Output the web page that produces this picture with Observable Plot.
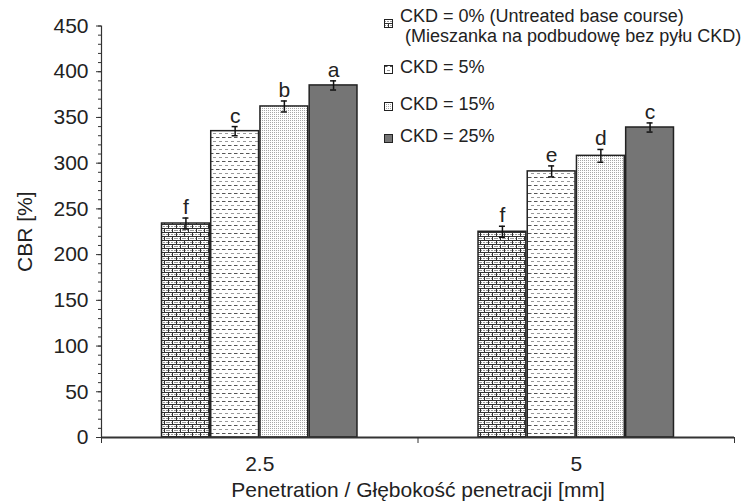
<!DOCTYPE html>
<html>
<head>
<meta charset="utf-8">
<script src="https://cdn.jsdelivr.net/npm/d3@7"></script>
<script src="https://cdn.jsdelivr.net/npm/@observablehq/plot@0.6"></script>
<style>
  body { margin: 0; background: #fff; }
  #wrap { position: relative; width: 756px; height: 501px; font-family: "Liberation Sans", Arial, sans-serif; color: #222; }
  #legend { position: absolute; left: 0; top: 0; font-size: 18px; line-height: 20px; }
  .item { position: absolute; left: 384px; white-space: nowrap; }
  .item svg { position: absolute; left: 0; }
  .item .txt { position: absolute; left: 16px; }
  .sub { display: block; padding-left: 5px; }
</style>
</head>
<body>
<svg width="0" height="0" style="position:absolute">
  <defs>
    <pattern id="brick" width="8" height="8" patternUnits="userSpaceOnUse">
      <rect width="8" height="8" fill="#fff"/>
      <path d="M0 2.5H8M0 6.5H8" stroke="#999" stroke-width="1" stroke-dasharray="2 1"/>
      <path d="M0 0.5H8M0 4.5H8M0.5 0V4.5M4.5 4.5V8" stroke="#333" stroke-width="1"/>
    </pattern>
    <pattern id="dash" width="6" height="8" patternUnits="userSpaceOnUse">
      <rect width="6" height="8" fill="#fff"/>
      <path d="M0 1.5H3.5" stroke="#555" stroke-width="1"/>
      <path d="M3 5.5H6" stroke="#999" stroke-width="1"/>
    </pattern>
    <pattern id="dots" width="2" height="2" patternUnits="userSpaceOnUse">
      <rect width="2" height="2" fill="#fff"/>
      <rect width="1" height="1" fill="#a8a8a8"/>
    </pattern>
  </defs>
</svg>
<div id="wrap">
  <div id="chart"></div>
  <div id="legend"></div>
</div>
<script>
// ---- data ----
const penetration = ["2.5", "5"];
const seriesLabels = [
  "CKD = 0% (Untreated base course)",
  "CKD = 5%",
  "CKD = 15%",
  "CKD = 25%"
];
const seriesSubLabel = ["(Mieszanka na podbudowę bez pyłu CKD)", "", "", ""];
const cbr_2_5 = [234, 335, 362, 385];
const cbr_5 = [225, 291, 308, 339];
const err_2_5 = [6, 5, 6, 5];
const err_5 = [6, 6, 7, 5];
const letters_2_5 = ["f", "c", "b", "a"];
const letters_5 = ["f", "e", "d", "c"];
const yTicks = [0, 50, 100, 150, 200, 250, 300, 350, 400, 450];

// ---- styling / layout ----
const fills = ["url(#brick)", "url(#dash)", "url(#dots)", "#757575"];
const groupSpan = 0.622;   // fraction of each penetration band occupied by bars
const capHalf = 0.0095;    // half width of error-bar caps (band units)

const values = [cbr_2_5, cbr_5];
const errors = [err_2_5, err_5];
const letters = [letters_2_5, letters_5];
const slot = groupSpan / seriesLabels.length;

const rows = penetration.flatMap((p, g) => seriesLabels.map((s, i) => {
  const x1 = g + 0.5 - groupSpan / 2 + i * slot;
  return {g, i, p, s, v: values[g][i], e: errors[g][i], l: letters[g][i],
          x1, x2: x1 + slot, xc: x1 + slot / 2};
}));

const chart = Plot.plot({
  width: 756,
  height: 501,
  marginLeft: 101,
  marginRight: 22,
  marginTop: 25.5,
  marginBottom: 64,
  style: {fontFamily: '"Liberation Sans", Arial, sans-serif', fontSize: "21px", color: "#222", background: "transparent", overflow: "visible"},
  x: {domain: [0, penetration.length]},
  y: {domain: [0, 450]},
  marks: [
    Plot.rect(rows, {x1: "x1", x2: "x2", y1: 0, y2: "v", fill: d => fills[d.i],
      stroke: "#222", strokeWidth: 1.5, insetLeft: 0.7, insetRight: 0.7}),
    Plot.ruleX(rows, {x: "xc", y1: d => d.v - d.e, y2: d => d.v + d.e, stroke: "#111", strokeWidth: 1.5}),
    Plot.ruleY(rows, {y: d => d.v + d.e, x1: d => d.xc - capHalf, x2: d => d.xc + capHalf, stroke: "#111", strokeWidth: 1.5}),
    Plot.ruleY(rows, {y: d => d.v - d.e, x1: d => d.xc - capHalf, x2: d => d.xc + capHalf, stroke: "#111", strokeWidth: 1.5}),
    Plot.text(rows, {x: "xc", y: d => d.v + d.e, text: "l", dy: -4, lineAnchor: "bottom", fontSize: 21, fill: "#222"}),
    Plot.ruleX([0], {stroke: "#333", strokeWidth: 1.2}),
    Plot.ruleY([0], {stroke: "#333", strokeWidth: 2}),
    Plot.axisY({ticks: d3.range(0, 451, 10), tickSize: 3, tickFormat: () => "", label: null, stroke: "#333"}),
    Plot.axisY({ticks: yTicks, tickSize: 5, tickPadding: 8, fontSize: 21, label: "CBR [%]", labelAnchor: "center", labelOffset: 84, labelArrow: "none", stroke: "#333", fill: "#222"}),
    Plot.axisX({ticks: d3.range(0, penetration.length + 1), tickSize: 6, tickFormat: () => "", label: null, stroke: "#333"}),
    Plot.axisX({ticks: penetration.map((p, g) => g + 0.5), tickSize: 0, tickPadding: 19, fontSize: 21,
      tickFormat: d => penetration[Math.round(d - 0.5)],
      label: "Penetration / Głębokość penetracji [mm]", labelAnchor: "center", labelOffset: 59, labelArrow: "none", fill: "#222"})
  ]
});
document.getElementById("chart").appendChild(chart);

// ---- legend (HTML overlay) ----
const legendTops = [5.5, 57, 94, 125.5];
const swatchTops = [13, 8, 8, 8];
const legend = document.getElementById("legend");
seriesLabels.forEach((s, i) => {
  const item = document.createElement("div");
  item.className = "item";
  item.style.top = legendTops[i] + "px";
  item.innerHTML = `<svg width="9" height="9" style="top:${swatchTops[i]}px"><rect x="0.5" y="0.5" width="8" height="8" fill="${fills[i]}" stroke="#222" stroke-width="1"/></svg>` +
    `<span class="txt">${s}${seriesSubLabel[i] ? `<span class="sub">${seriesSubLabel[i]}</span>` : ""}</span>`;
  legend.appendChild(item);
});
</script>
</body>
</html>
